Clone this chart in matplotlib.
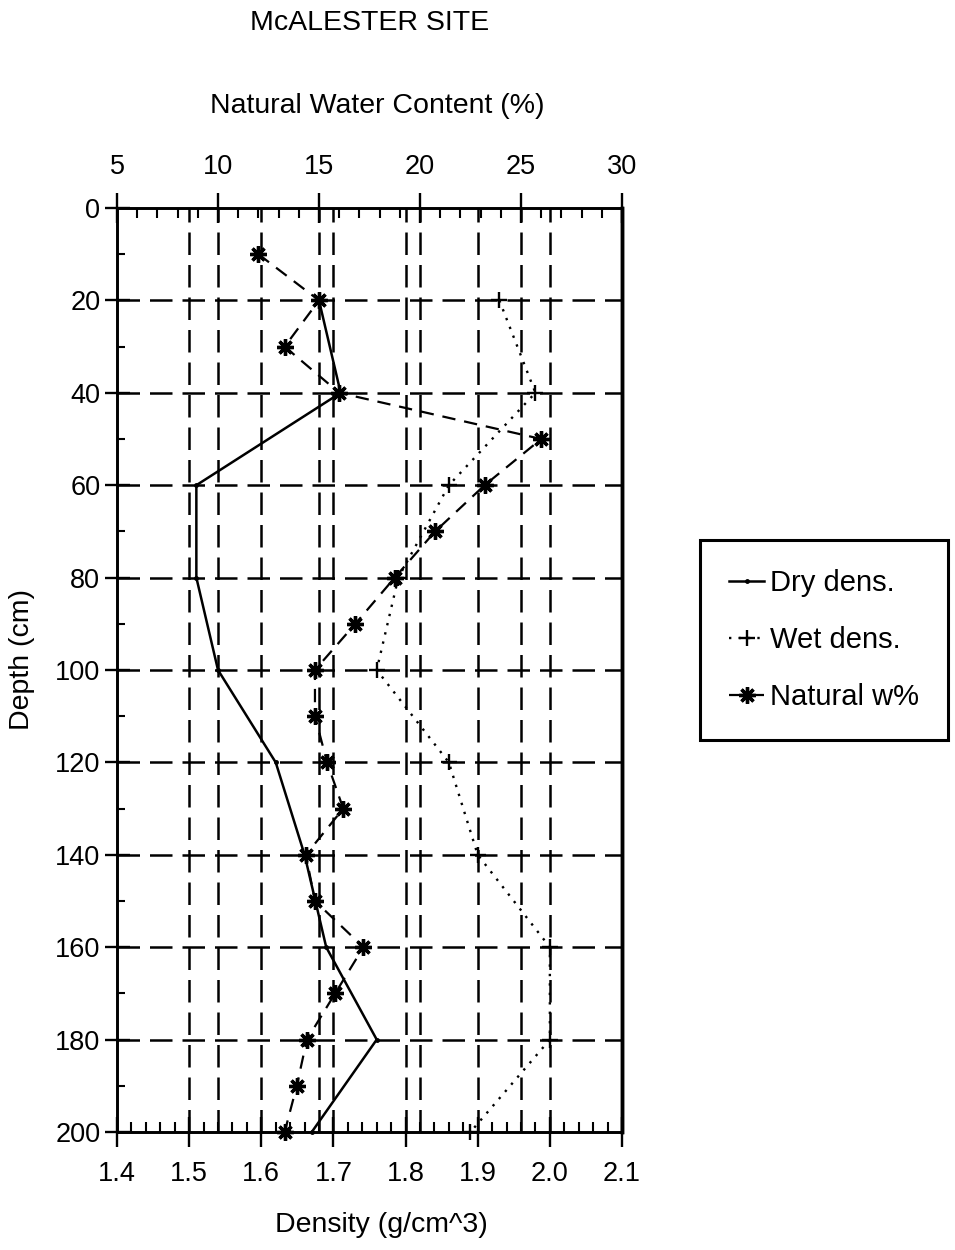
import matplotlib
matplotlib.use("Agg")
import matplotlib.pyplot as plt
from matplotlib.ticker import MultipleLocator, FixedLocator, FormatStrFormatter
from matplotlib.lines import Line2D

plt.rcParams['font.family'] = ['Liberation Sans', 'DejaVu Sans']

# Depth profiles (cm) and measured soil properties
depth_density = [20, 40, 60, 80, 100, 120, 140, 160, 180, 200]
dry_density = [1.68, 1.71, 1.51, 1.51, 1.54, 1.62, 1.66, 1.69, 1.76, 1.67]
wet_density = [1.93, 1.98, 1.86, 1.79, 1.76, 1.86, 1.90, 2.00, 2.00, 1.89]

depth_water = [10, 20, 30, 40, 50, 60, 70, 80, 90, 100,
               110, 120, 130, 140, 150, 160, 170, 180, 190, 200]
water_content = [12.0, 15.0, 13.3, 16.0, 26.0, 23.2, 20.75, 18.75, 16.8, 14.8,
                 14.8, 15.4, 16.2, 14.35, 14.8, 17.2, 15.8, 14.4, 13.9, 13.3]

density_ticks = [1.4, 1.5, 1.6, 1.7, 1.8, 1.9, 2.0, 2.1]
water_ticks = [5, 10, 15, 20, 25, 30]
depth_ticks = [0, 20, 40, 60, 80, 100, 120, 140, 160, 180, 200]

TICK_FS = 19.5
LABEL_FS = 20.5

fig = plt.figure(figsize=(9.55, 12.5), dpi=100)
ax = fig.add_axes([117 / 955, 1 - 1132 / 1250, 505 / 955, 924 / 1250])
ax2 = ax.twiny()
# water-content axis sits underneath, density axis (with the data) on top
ax.set_zorder(ax2.get_zorder() + 1)
ax.patch.set_visible(False)

ax.set_xlim(1.4, 2.1)
ax.set_ylim(200, 0)
ax2.set_xlim(5, 30)

grid_kw = dict(color='black', linewidth=1.8, linestyle=(0, (9, 4)))
for d in density_ticks[1:-1]:
    ax.axvline(d, zorder=1, **grid_kw)
for w in water_ticks[1:-1]:
    ax2.axvline(w, zorder=1, **grid_kw)
for z in depth_ticks[1:-1]:
    ax.axhline(z, zorder=1, **grid_kw)

dry_style = dict(color='black', linewidth=1.8, marker='.', markersize=5)
wet_style = dict(color='black', linewidth=1.7, linestyle=(0, (1, 3)),
                 marker='+', markersize=12, markeredgewidth=1.7)
water_style = dict(color='black', linewidth=1.6, linestyle=(0, (6, 4)),
                   marker=(8, 2, 0), markersize=12, markeredgewidth=2.4)

ax.plot(dry_density, depth_density, zorder=3, clip_on=False, **dry_style)
ax.plot(wet_density, depth_density, zorder=3, clip_on=False, **wet_style)
# Natural water content, drawn in the water-content coordinates
ax.plot(water_content, depth_water, zorder=4, clip_on=False,
        transform=ax2.transData, **water_style)

# Axes: ticks and spines
ax.xaxis.set_major_locator(FixedLocator(density_ticks))
ax.xaxis.set_minor_locator(MultipleLocator(0.02))
ax.xaxis.set_major_formatter(FormatStrFormatter('%.1f'))
ax.yaxis.set_major_locator(FixedLocator(depth_ticks))
ax.yaxis.set_minor_locator(MultipleLocator(10))
ax2.xaxis.set_major_locator(FixedLocator(water_ticks))
ax2.xaxis.set_minor_locator(MultipleLocator(1))

ax.tick_params(axis='x', which='major', direction='inout', length=22,
               width=1.7, labelsize=TICK_FS, pad=10, top=False)
ax.tick_params(axis='x', which='minor', direction='in', length=7,
               width=1.5, top=False)
ax.tick_params(axis='y', which='major', direction='inout', length=18,
               width=1.7, labelsize=TICK_FS, pad=3, right=False)
ax.tick_params(axis='y', which='minor', direction='in', length=6,
               width=1.5, right=False)
ax2.tick_params(axis='x', which='major', direction='inout', length=22,
                width=1.7, labelsize=TICK_FS, pad=9)
ax2.tick_params(axis='x', which='minor', direction='in', length=7, width=1.5)

for a in (ax, ax2):
    for s in a.spines.values():
        s.set_linewidth(1.9)
    a.spines['right'].set_linewidth(2.5)

fig.text(370 / 955, 1 - 23 / 1250, 'McALESTER SITE', ha='center',
         va='center', fontsize=LABEL_FS)
fig.text(377 / 955, 1 - 106 / 1250, 'Natural Water Content (%)',
         ha='center', va='center', fontsize=LABEL_FS)
fig.text(381 / 955, 1 - 1225 / 1250, 'Density (g/cm^3)', ha='center',
         va='center', fontsize=LABEL_FS)
fig.text(22 / 955, 1 - 660 / 1250, 'Depth (cm)', ha='center', va='center',
         rotation=90, fontsize=LABEL_FS)

handles = [Line2D([], [], **dry_style),
           Line2D([], [], **wet_style),
           Line2D([], [], **water_style)]
labels = ['Dry dens.', 'Wet dens.', 'Natural w%']
leg = fig.legend(handles, labels, loc='center',
                 bbox_to_anchor=(824 / 955, 1 - 640 / 1250),
                 fontsize=LABEL_FS + 0.5, frameon=True, fancybox=False,
                 edgecolor='black', handlelength=1.2, handletextpad=0.2,
                 labelspacing=1.0, borderpad=1.0, borderaxespad=0)
leg.get_frame().set_linewidth(2.2)
leg.get_frame().set_alpha(1)

fig.savefig('out.png', dpi=100)
